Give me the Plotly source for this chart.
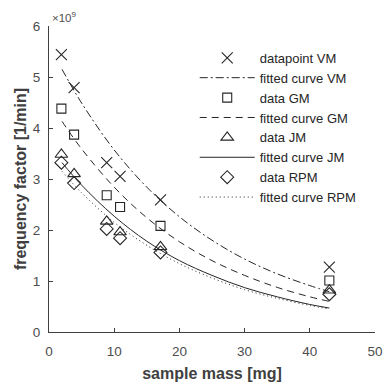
import plotly.graph_objects as go

# sample masses [mg]
mass = [1.9, 3.85, 8.85, 10.9, 17.1, 43.0]
# frequency factor data [x1e9 1/min]
vm_data = [5.44, 4.79, 3.32, 3.05, 2.59, 1.27]
gm_data = [4.38, 3.87, 2.68, 2.45, 2.08, 1.01]
jm_data = [3.48, 3.10, 2.17, 1.96, 1.67, 0.82]
rpm_data = [3.32, 2.92, 2.02, 1.84, 1.56, 0.74]

# fitted curves
fit_x = [2, 5, 10, 15, 20, 25, 30, 35, 40, 43]
vm_fit = [5.15, 4.49, 3.57, 2.84, 2.26, 1.80, 1.43, 1.14, 0.91, 0.79]
gm_fit = [4.13, 3.59, 2.84, 2.24, 1.77, 1.40, 1.11, 0.875, 0.69, 0.60]
jm_fit = [3.32, 2.88, 2.27, 1.78, 1.40, 1.11, 0.87, 0.69, 0.54, 0.47]
rpm_fit = [3.15, 2.73, 2.15, 1.70, 1.34, 1.06, 0.83, 0.66, 0.52, 0.45]

x_ticks = [0, 10, 20, 30, 40, 50]
y_ticks = [0, 1, 2, 3, 4, 5, 6]

ink = "#262626"
fig = go.Figure()

def add_markers(y, name, symbol, size, grp):
    fig.add_trace(go.Scatter(x=mass, y=y, mode="markers", name=name, legendgroup=grp,
                             marker=dict(symbol=symbol, size=size, color=ink,
                                         line=dict(color=ink, width=1.1))))

def add_line(y, name, dash, grp):
    fig.add_trace(go.Scatter(x=fit_x, y=y, mode="lines", name=name, legendgroup=grp,
                             line=dict(color=ink, width=1, dash=dash, shape="spline")))

add_markers(vm_data, "datapoint VM", "x-thin-open", 11, "a")
add_line(vm_fit, "fitted curve VM", "8px,3px,2px,3px", "b")
add_markers(gm_data, "data GM", "square-open", 9, "c")
add_line(gm_fit, "fitted curve GM", "7px,5px", "d")
add_markers(jm_data, "data JM", "triangle-up-open", 11, "e")
add_line(jm_fit, "fitted curve JM", "solid", "f")
add_markers(rpm_data, "data RPM", "diamond-open", 10, "g")
add_line(rpm_fit, "fitted curve RPM", "1px,3px", "h")

axis_common = dict(showline=True, linecolor="#404040", linewidth=1, ticks="inside",
                   ticklen=4, tickcolor="#404040", showgrid=False, zeroline=False,
                   ticklabeloverflow="allow",
                   tickfont=dict(family="Liberation Sans", size=13.5, color="#4d4d4d"))

fig.update_layout(
    width=388, height=384,
    margin=dict(l=49, r=5, t=26, b=51),
    paper_bgcolor="white", plot_bgcolor="white",
    font=dict(family="Liberation Sans", color=ink),
    xaxis=dict(range=[0, 50], tickvals=x_ticks, ticklabelstandoff=7,
               title=dict(text="<b>sample mass [mg]</b>", standoff=9,
                          font=dict(size=16, color="#404040")), **axis_common),
    yaxis=dict(range=[0, 6], tickvals=y_ticks, ticklabelstandoff=5,
               title=dict(text="<b>frequency factor [1/min]</b>", standoff=2,
                          font=dict(size=16, color="#404040")), **axis_common),
    legend=dict(x=0.447, y=0.945, xanchor="left", yanchor="top", bgcolor="rgba(0,0,0,0)",
                font=dict(size=13, color=ink), itemwidth=55, tracegroupgap=2,
                traceorder="normal"),
    annotations=[dict(text="×10<sup>9</sup>", xref="paper", yref="paper", x=0, y=1,
                      xanchor="left", yanchor="bottom", showarrow=False, xshift=1, yshift=0,
                      font=dict(size=11.5, color="#4d4d4d"))],
)

fig.write_html("out.html")
